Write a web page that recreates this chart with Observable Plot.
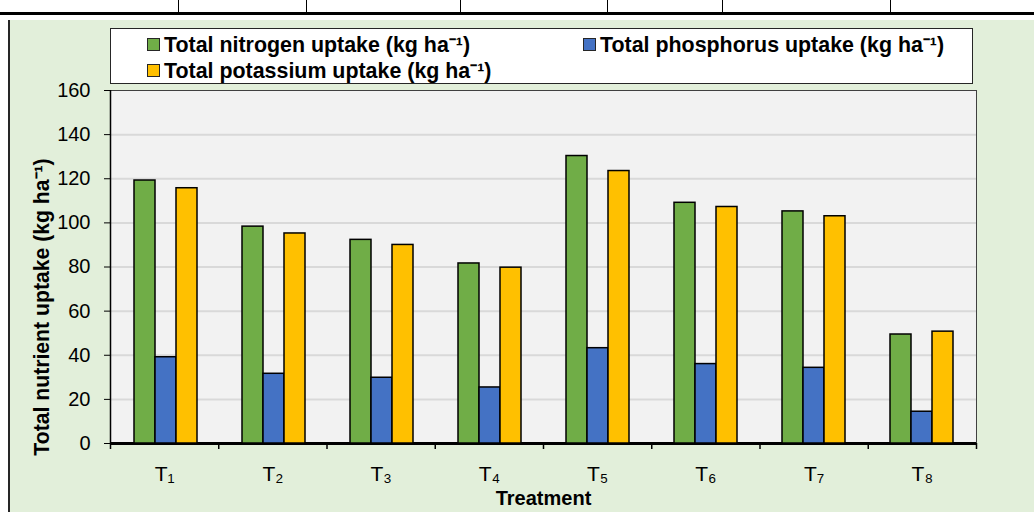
<!DOCTYPE html>
<html>
<head>
<meta charset="utf-8">
<script src="https://cdn.jsdelivr.net/npm/d3@7"></script>
<script src="https://cdn.jsdelivr.net/npm/@observablehq/plot@0.6"></script>
<style>
  html, body { margin: 0; padding: 0; background: #fff; }
  #root { position: relative; width: 1034px; height: 512px; overflow: hidden; background: #fff; font-family: "Liberation Sans", Arial, sans-serif; }
  .abs { position: absolute; }
  #panel { left: 8px; top: 20px; right: 0; bottom: 0; background: #e2efda; border-left: 2px solid #262626; }
  #tableLine { left: 0; top: 12px; width: 1034px; height: 3px; background: #000; }
  .vdiv { top: 0; width: 1px; height: 12px; background: #000; }
  #bg, #fg { left: 0; top: 0; }
  #legend { left: 110px; top: 28px; width: 863px; height: 56px; background: #fff; border: 1.5px solid #262626; box-sizing: border-box; }
  .item { position: absolute; font-weight: bold; font-size: 21.4px; color: #000; white-space: nowrap; line-height: 21px; }
  .sw { display: inline-block; width: 11px; height: 11px; border: 1px solid #262626; margin-right: 4px; vertical-align: 1px; }
</style>
</head>
<body>
<div id="root">
  <div id="tableLine" class="abs"></div>
  <div id="panel" class="abs"></div>
  <div id="bg" class="abs"></div>
  <div id="fg" class="abs"></div>
  <div id="legend" class="abs"></div>
</div>
<script>
// ---- data ----
const treatments = ["T₁", "T₂", "T₃", "T₄", "T₅", "T₆", "T₇", "T₈"];
const nitrogen   = [119.2, 98.3, 92.3, 81.6, 130.3, 109.1, 105.2, 49.4];
const phosphorus = [39.1, 31.6, 29.8, 25.4, 43.2, 36.0, 34.3, 14.4];
const potassium  = [115.7, 95.2, 90.0, 79.7, 123.5, 107.2, 103.0, 50.7];
const seriesKeys = ["N", "P", "K"];
const seriesNames = ["Total nitrogen uptake (kg ha⁻¹)", "Total phosphorus uptake (kg ha⁻¹)", "Total potassium uptake (kg ha⁻¹)"];
const seriesColors = ["#70ad47", "#4472c4", "#ffc000"];
const yTicks = [0, 20, 40, 60, 80, 100, 120, 140, 160];
const yTitle = "Total nutrient uptake (kg ha⁻¹)";
const xTitle = "Treatment";
const tableDividers = [178, 306, 460, 607, 722, 890];

const seriesValues = {N: nitrogen, P: phosphorus, K: potassium};
const rows = treatments.flatMap((t, i) => seriesKeys.map(s => ({t, s, v: seriesValues[s][i]})));

const W = 1034, H = 512;
const M = {marginLeft: 110, marginRight: 58, marginTop: 90, marginBottom: 69};
const font = "'Liberation Sans', Arial, sans-serif";

// table fragment dividers
const root = document.getElementById("root");
tableDividers.forEach(x => {
  const d = document.createElement("div");
  d.className = "abs vdiv";
  d.style.left = x + "px";
  root.appendChild(d);
});

// background plot: frame, grid, axes, labels
const bg = Plot.plot({
  width: W, height: H, ...M,
  x: {type: "linear", domain: [0, treatments.length]},
  y: {domain: [0, 160]},
  style: {background: "transparent", fontFamily: font, color: "#000", overflow: "visible"},
  marks: [
    Plot.frame({fill: "#f2f2f2", stroke: "#404040", strokeWidth: 1}),
    Plot.gridY(yTicks.slice(1, -1), {stroke: "#d9d9d9", strokeOpacity: 1, strokeWidth: 2}),
    Plot.axisY({ticks: yTicks, tickSize: 6, tickPadding: 14, fontSize: 20, label: null, tickFormat: d => d, stroke: "#000"}),
    Plot.ruleX([0], {stroke: "#000", strokeWidth: 1.5}),
    Plot.axisX({ticks: d3.range(0, treatments.length + 1), tickSize: 6, tickFormat: () => "", label: null, stroke: "#000", strokeWidth: 1.5}),
    Plot.ruleY([0], {stroke: "#000", strokeWidth: 3}),
    Plot.text(treatments, {x: (d, i) => i + 0.5, frameAnchor: "bottom", dy: 37, text: d => d, fontSize: 21, fill: "#000"}),
    Plot.text([xTitle], {frameAnchor: "bottom", dy: 61, text: d => d, fontSize: 20, fontWeight: "bold", fill: "#000"}),
    Plot.text([yTitle], {frameAnchor: "left", textAnchor: "middle", rotate: -90, dx: -68, dy: 40, text: d => d, fontSize: 21.2, fontWeight: "bold", fill: "#000"})
  ]
});
document.getElementById("bg").appendChild(bg);

// foreground plot: grouped bars via facets
const fg = Plot.plot({
  width: W, height: H, ...M,
  facet: {data: rows, x: "t"},
  fx: {domain: treatments, paddingInner: 0.42, paddingOuter: 0.2, axis: null, label: null},
  x: {domain: seriesKeys, padding: 0, axis: null},
  y: {domain: [0, 160], axis: null},
  color: {domain: seriesKeys, range: seriesColors},
  style: {background: "transparent", fontFamily: font, overflow: "visible"},
  marks: [
    Plot.barY(rows, {x: "s", y: "v", fill: "s", stroke: "#000", strokeWidth: 1.5})
  ]
});
document.getElementById("fg").appendChild(fg);

// legend
const legend = document.getElementById("legend");
const legendPos = [[36, 6], [472, 6], [36, 32]];
seriesNames.forEach((name, i) => {
  const it = document.createElement("div");
  it.className = "item";
  it.style.left = legendPos[i][0] + "px";
  it.style.top = legendPos[i][1] + "px";
  const sw = document.createElement("span");
  sw.className = "sw";
  sw.style.background = seriesColors[i];
  it.appendChild(sw);
  it.appendChild(document.createTextNode(name));
  legend.appendChild(it);
});
</script>
</body>
</html>
